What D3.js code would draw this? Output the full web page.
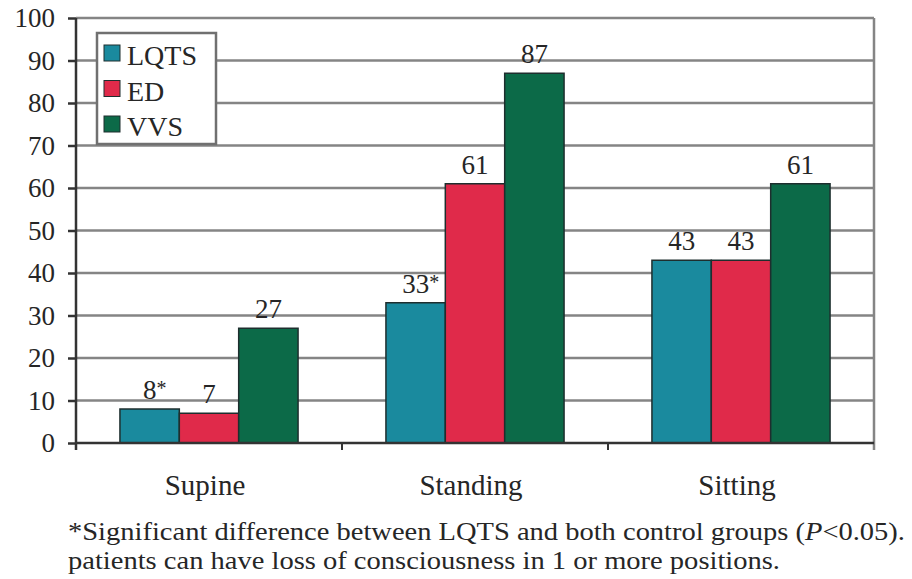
<!DOCTYPE html>
<html>
<head>
<meta charset="utf-8">
<script src="https://cdn.jsdelivr.net/npm/d3@7"></script>
<style>
  html, body { margin: 0; padding: 0; background: #fff; }
  svg { display: block; }
</style>
</head>
<body>
<svg id="chart" width="912" height="579"></svg>
<script>
// Loss of consciousness by body position (%)
const positions = ["Supine", "Standing", "Sitting"];
const groups = ["LQTS", "ED", "VVS"];
const lqtsValues = [8, 33, 43];
const edValues = [7, 61, 43];
const vvsValues = [27, 87, 61];
// "*" marks a significant LQTS difference
const lqtsFlags = [true, true, false];
const yTicks = [0, 10, 20, 30, 40, 50, 60, 70, 80, 90, 100];
const footnote = [
  "*Significant difference between LQTS and both control groups (P<0.05).",
  "patients can have loss of consciousness in 1 or more positions."
];

const colors = { LQTS: "#1a8a9e", ED: "#e02a4a", VVS: "#0c6a48" };
const FONT = "'Liberation Serif'";
const INK = "#262626";

const seriesValues = { LQTS: lqtsValues, ED: edValues, VVS: vvsValues };
const seriesFlags = { LQTS: lqtsFlags, ED: [false, false, false], VVS: [false, false, false] };

const serif = sel => sel.style("font-family", FONT).style("fill", INK);

const svg = d3.select("#chart");
const plot = { left: 76, right: 874, top: 18, bottom: 443 };

const y = d3.scaleLinear().domain([0, 100]).range([plot.bottom, plot.top]);
const x0 = d3.scaleBand().domain(positions).range([plot.left, plot.right]).padding(0);
const x1 = d3.scaleBand().domain(groups).range([0, x0.bandwidth()])
  .paddingInner(0).paddingOuter(0.74);

// Horizontal grid lines
svg.append("g")
  .selectAll("line")
  .data(yTicks.filter(t => t > 0))
  .join("line")
  .attr("x1", plot.left).attr("x2", plot.right)
  .attr("y1", d => y(d)).attr("y2", d => y(d))
  .attr("stroke", "#858585").attr("stroke-width", 2.5);

// Right border
svg.append("line")
  .attr("x1", plot.right).attr("x2", plot.right)
  .attr("y1", plot.top).attr("y2", plot.bottom + 7)
  .attr("stroke", "#858585").attr("stroke-width", 2.5);

// Bars
const rows = [];
positions.forEach((p, i) => {
  groups.forEach(g => rows.push({ pos: p, group: g, value: seriesValues[g][i], flag: seriesFlags[g][i] }));
});

svg.append("g")
  .selectAll("rect")
  .data(rows)
  .join("rect")
  .attr("x", d => x0(d.pos) + x1(d.group))
  .attr("y", d => y(d.value))
  .attr("width", x1.bandwidth())
  .attr("height", d => y(0) - y(d.value))
  .attr("fill", d => colors[d.group])
  .attr("stroke", "#1e2e2e")
  .attr("stroke-width", 1.5);

// Value labels, with a raised asterisk where flagged
svg.append("g")
  .selectAll("text")
  .data(rows)
  .join("text")
  .attr("x", d => x0(d.pos) + x1(d.group) + x1.bandwidth() / 2 + (d.flag ? 5 : 0))
  .attr("y", d => y(d.value) - 10)
  .attr("text-anchor", "middle")
  .attr("font-size", 27)
  .call(serif)
  .each(function (d) {
    const t = d3.select(this);
    t.append("tspan").text(d.value);
    if (d.flag) t.append("tspan").attr("font-size", 20).attr("dy", -4).text("*");
  });

// Y axis
const yAxis = d3.axisLeft(y).tickValues(yTicks).tickSize(8).tickPadding(13).tickSizeOuter(0);
const yg = svg.append("g").attr("transform", `translate(${plot.left},0)`).call(yAxis);
yg.select(".domain").attr("stroke", "#333").attr("stroke-width", 2.5)
  .attr("d", `M0,${plot.top}V${plot.bottom + 7}`);
yg.selectAll(".tick line").attr("stroke", "#333").attr("stroke-width", 2.5);
yg.selectAll(".tick text").attr("font-size", 27).call(serif);

// X axis
const xAxis = d3.axisBottom(x0).tickSize(0).tickPadding(31);
const xg = svg.append("g").attr("transform", `translate(0,${plot.bottom})`).call(xAxis);
xg.select(".domain").attr("stroke", "#333").attr("stroke-width", 2.5)
  .attr("d", `M${plot.left},0H${plot.right}`);
xg.selectAll(".tick text").attr("font-size", 29).attr("dx", -4).call(serif);

// Category boundary ticks
svg.append("g")
  .selectAll("line")
  .data(positions.slice(1))
  .join("line")
  .attr("x1", d => x0(d)).attr("x2", d => x0(d))
  .attr("y1", plot.bottom).attr("y2", plot.bottom + 7)
  .attr("stroke", "#333").attr("stroke-width", 2);

// Legend
const legend = svg.append("g").attr("transform", "translate(97,33)");
legend.append("rect")
  .attr("width", 119).attr("height", 111)
  .attr("fill", "#fff").attr("stroke", "#707070").attr("stroke-width", 2.5);
groups.forEach((g, i) => {
  const row = legend.append("g").attr("transform", `translate(7,${12 + i * 35.5})`);
  row.append("rect").attr("width", 16).attr("height", 16)
    .attr("fill", colors[g]).attr("stroke", "#1e2e2e").attr("stroke-width", 1);
  row.append("text").attr("x", 23).attr("y", 20).attr("font-size", 28)
    .call(serif).text(g);
});

// Footnote
const fn = svg.append("g");
fn.append("text").attr("x", 68).attr("y", 540).attr("font-size", 25)
  .attr("textLength", 837).attr("lengthAdjust", "spacingAndGlyphs")
  .call(serif)
  .call(t => {
    t.append("tspan").text("*Significant difference between LQTS and both control groups (");
    t.append("tspan").attr("font-style", "italic").text("P");
    t.append("tspan").text("<0.05).");
  });
fn.append("text").attr("x", 68).attr("y", 569).attr("font-size", 25)
  .attr("textLength", 712).attr("lengthAdjust", "spacingAndGlyphs")
  .call(serif)
  .text(footnote[1]);
</script>
</body>
</html>
